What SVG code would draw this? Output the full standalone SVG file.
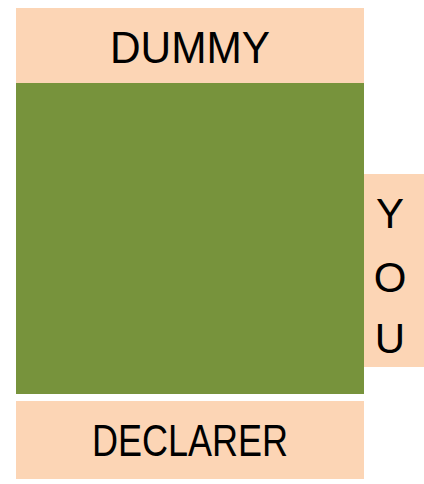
<svg xmlns="http://www.w3.org/2000/svg" width="424" height="484" viewBox="0 0 424 484">
<style>
.label{fill:#FCD5B5}
.t{font-family:"Liberation Sans",Arial,sans-serif;font-size:44px;fill:#000;text-anchor:middle}
</style>
<rect width="424" height="484" fill="#fff"/>
<g id="table"><rect x="16" y="83" width="348" height="311" fill="#77933C"/></g>
<g id="dummy"><rect class="label" x="16" y="8" width="348" height="75"/><text class="t" x="190" y="63" textLength="160" lengthAdjust="spacingAndGlyphs">DUMMY</text></g>
<g id="you"><rect class="label" x="364" y="174" width="60" height="193"/><text class="t" x="390" y="228" style="font-size:42px">Y</text><text class="t" x="390" y="292" style="font-size:42px">O</text><text class="t" x="390" y="353" style="font-size:42px">U</text></g>
<g id="declarer"><rect class="label" x="16" y="401" width="348" height="78"/><text class="t" x="190" y="456" textLength="196" lengthAdjust="spacingAndGlyphs">DECLARER</text></g>
<g id="connectors"/>
</svg>
